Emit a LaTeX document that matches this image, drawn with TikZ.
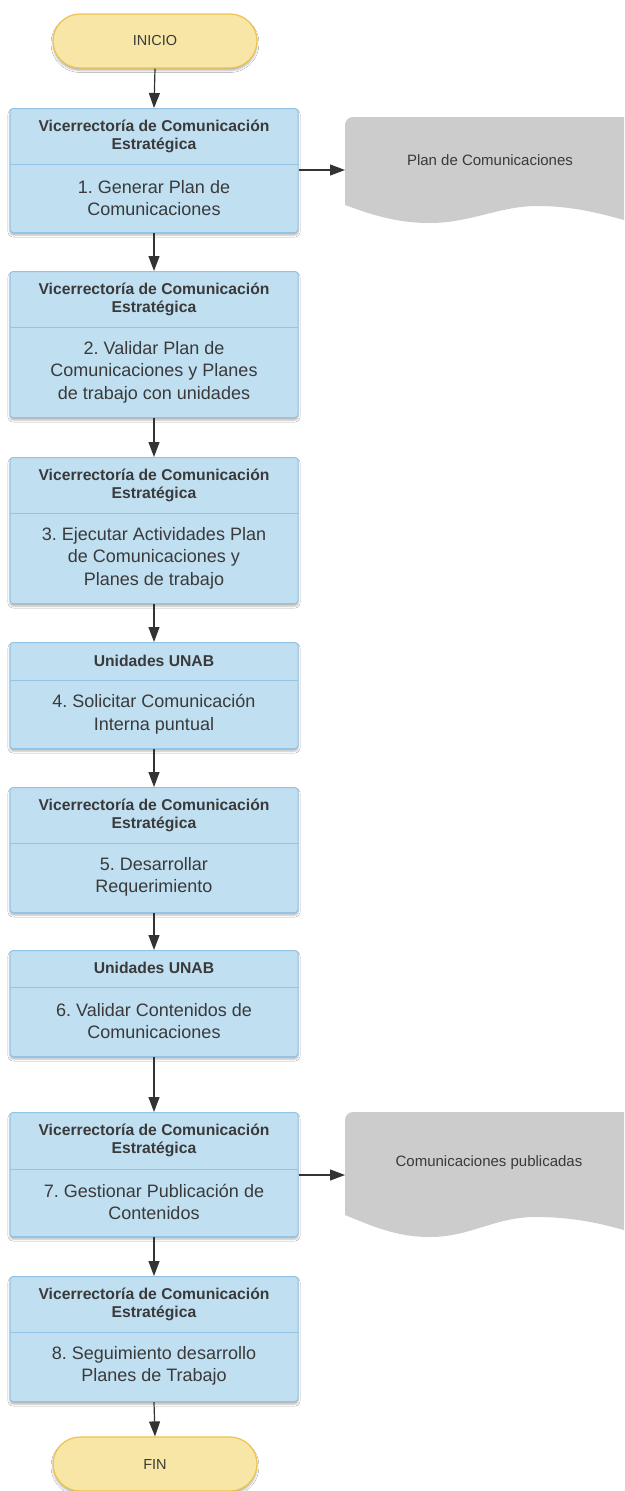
\documentclass[tikz,border=0pt]{standalone}
\usepackage{fontspec}
\setmainfont{Liberation Sans}
\usetikzlibrary{arrows.meta,shapes.misc,shadows.blur}
\definecolor{boxfill}{HTML}{C0DFF1}
\definecolor{boxline}{HTML}{93C4E6}
\definecolor{termfill}{HTML}{F7E6A6}
\definecolor{termline}{HTML}{F0C24F}
\definecolor{docfill}{HTML}{CCCCCC}
\definecolor{txt}{HTML}{3A3A3A}
\definecolor{arrc}{HTML}{333333}
\frenchspacing
\begin{document}
\begin{tikzpicture}[x=1pt,y=-1pt,
  myshadow/.style={blur shadow={shadow xshift=0pt, shadow yshift=-2.5pt, shadow blur radius=2pt, shadow opacity=30}},
  stepbox/.style={draw=boxline, fill=boxfill, line width=1pt, rounded corners=3pt,
    minimum width=288pt, inner sep=0pt, anchor=north, myshadow},
  divline/.style={draw=boxline, line width=1pt},
  hdr/.style={font=\fontsize{15.7}{18}\selectfont\bfseries, text=txt, align=center, inner sep=0pt},
  bodytxt/.style={font=\fontsize{18}{22.5}\selectfont, text=txt, align=center, inner sep=0pt},
  term/.style={rounded rectangle, draw=termline, fill=termfill, line width=1.2pt,
    minimum width=204pt, minimum height=54pt, inner sep=0pt,
    font=\fontsize{14.5}{17}\selectfont, text=txt, myshadow},
  doctxt/.style={font=\fontsize{15}{18}\selectfont, text=txt, inner sep=0pt},
  arr/.style={draw=arrc, line width=1.2pt, -{Triangle[length=15pt,width=11pt]}}
]
\useasboundingbox (0,0) rectangle (624,1491);
\fill[white] (0,0) rectangle (624,1491);

% documents
\begin{scope}
\clip (0,0) rectangle (624,1491);
\fill[docfill] (345,205) -- (345,125) .. controls (345,120.6) and (348.6,117) .. (353,117) -- (650,117) -- (650,225)
  .. controls (640,223) and (632,222) .. (624,220)
  .. controls (595,212) and (570,206) .. (537,206)
  .. controls (500,206) and (470,223) .. (430,223)
  .. controls (395,223) and (370,214) .. (345,205) -- cycle;
\fill[docfill] (345,1215) -- (345,1120) .. controls (345,1115.6) and (348.6,1112) .. (353,1112) -- (650,1112) -- (650,1236)
  .. controls (640,1234) and (632,1232) .. (624,1230)
  .. controls (595,1222) and (570,1217) .. (535,1217)
  .. controls (495,1217) and (470,1237) .. (430,1237)
  .. controls (395,1237) and (370,1225) .. (345,1215) -- cycle;
\end{scope}
\node[doctxt] (doc1) at (490,160) {Plan de Comunicaciones};
\node[doctxt] (doc2) at (489,1163) {Comunicaciones publicadas};
\coordinate (doc1in) at (345,170);
\coordinate (doc2in) at (345,1175);

% terminators
\node[term] (inicio) at (155,41) {INICIO};
\node[term] (fin) at (155,1464) {FIN};

% step boxes
\node[stepbox, minimum height=124pt] (b1) at (154,108) {};
\draw[divline] (10,164) -- (298,164);
\node[hdr] (b1h) at (154,136) {Vicerrectoría de Comunicación\\Estratégica};
\node[bodytxt] (b1b) at (154,198) {1. Generar Plan de\\Comunicaciones};

\node[stepbox, minimum height=146pt] (b2) at (154,271) {};
\draw[divline] (10,327) -- (298,327);
\node[hdr] (b2h) at (154,299) {Vicerrectoría de Comunicación\\Estratégica};
\node[bodytxt] (b2b) at (154,372) {2. Validar Plan de\\Comunicaciones y Planes\\de trabajo con unidades};

\node[stepbox, minimum height=146pt] (b3) at (154,457) {};
\draw[divline] (10,513) -- (298,513);
\node[hdr] (b3h) at (154,485) {Vicerrectoría de Comunicación\\Estratégica};
\node[bodytxt] (b3b) at (154,558) {3. Ejecutar Actividades Plan\\de Comunicaciones y\\Planes de trabajo};

\node[stepbox, minimum height=106pt] (b4) at (154,642) {};
\draw[divline] (10,680) -- (298,680);
\node[hdr] (b4h) at (154,661) {Unidades UNAB};
\node[bodytxt] (b4b) at (154,714) {4. Solicitar Comunicación\\Interna puntual};

\node[stepbox, minimum height=125pt] (b5) at (154,787) {};
\draw[divline] (10,843) -- (298,843);
\node[hdr] (b5h) at (154,815) {Vicerrectoría de Comunicación\\Estratégica};
\node[bodytxt] (b5b) at (154,877) {5. Desarrollar\\Requerimiento};

\node[stepbox, minimum height=106pt] (b6) at (154,950) {};
\draw[divline] (10,987) -- (298,987);
\node[hdr] (b6h) at (154,968) {Unidades UNAB};
\node[bodytxt] (b6b) at (154,1021) {6. Validar Contenidos de\\Comunicaciones};

\node[stepbox, minimum height=124pt] (b7) at (154,1112) {};
\draw[divline] (10,1169) -- (298,1169);
\node[hdr] (b7h) at (154,1140) {Vicerrectoría de Comunicación\\Estratégica};
\node[bodytxt] (b7b) at (154,1202) {7. Gestionar Publicación de\\Contenidos};

\node[stepbox, minimum height=125pt] (b8) at (154,1276) {};
\draw[divline] (10,1332) -- (298,1332);
\node[hdr] (b8h) at (154,1304) {Vicerrectoría de Comunicación\\Estratégica};
\node[bodytxt] (b8b) at (154,1366) {8. Seguimiento desarrollo\\Planes de Trabajo};

% connectors
\draw[arr] (inicio.south) -- (b1.north);
\draw[arr] (b1.south) -- (b2.north);
\draw[arr] (b2.south) -- (b3.north);
\draw[arr] (b3.south) -- (b4.north);
\draw[arr] (b4.south) -- (b5.north);
\draw[arr] (b5.south) -- (b6.north);
\draw[arr] (b6.south) -- (b7.north);
\draw[arr] (b7.south) -- (b8.north);
\draw[arr] (b8.south) -- (fin.north);
\draw[arr] (b1.east |- doc1in) -- (doc1in);
\draw[arr] (b7.east |- doc2in) -- (doc2in);
\end{tikzpicture}
\end{document}
